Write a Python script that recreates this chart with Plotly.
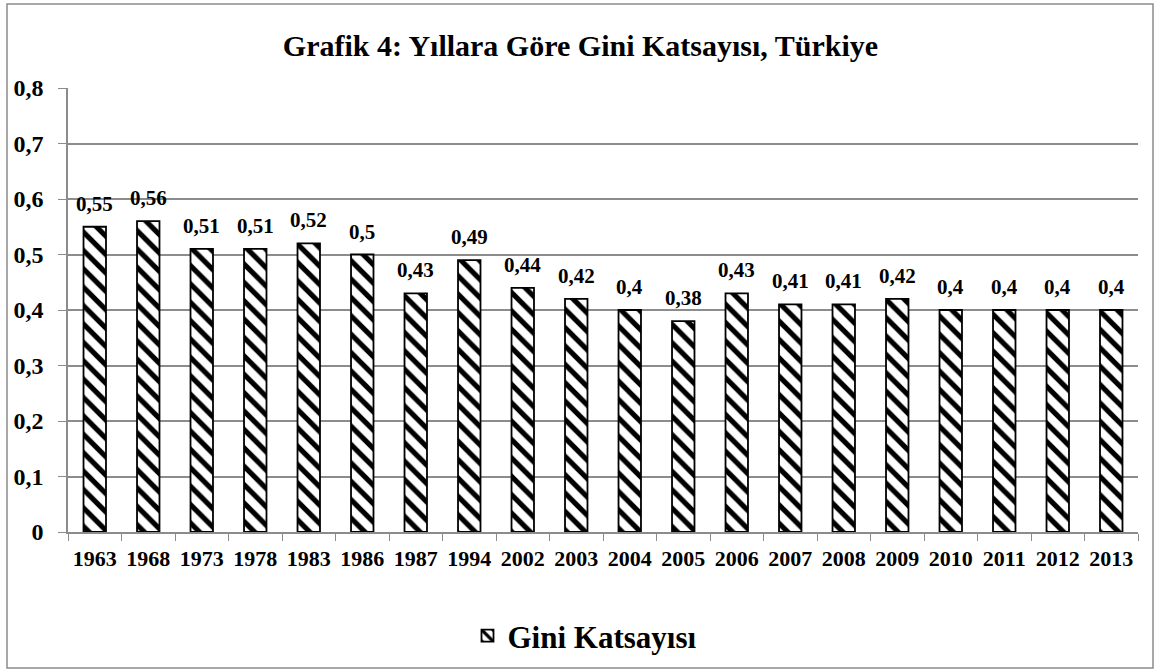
import plotly.graph_objects as go

years = ["1963","1968","1973","1978","1983","1986","1987","1994","2002","2003",
         "2004","2005","2006","2007","2008","2009","2010","2011","2012","2013"]
gini = [0.55,0.56,0.51,0.51,0.52,0.5,0.43,0.49,0.44,0.42,
        0.4,0.38,0.43,0.41,0.41,0.42,0.4,0.4,0.4,0.4]
labels = [str(v).replace(".", ",") for v in gini]
yticks = [0,0.1,0.2,0.3,0.4,0.5,0.6,0.7,0.8]
yticktext = ["0" if v == 0 else str(v).replace(".", ",") for v in yticks]

FONT = "Liberation Serif"
L, R, T, B = 68, 23, 88, 139
W, H = 1161, 671
pw, ph = W - L - R, H - T - B

def px(x): return (x - L) / pw
def py(y): return (H - B - y) / ph

fig = go.Figure()
fig.add_trace(go.Bar(
    x=years, y=gini, name="<b>Gini Katsayısı</b>",
    marker=dict(color="white", line=dict(color="black", width=1.8),
                pattern=dict(shape="\\", fgcolor="black", bgcolor="white",
                             fgopacity=1, size=13, solidity=0.4)),
    width=0.42,
))

annotations = [
    dict(x=i, y=v, xref="x", yref="y", text="<b>" + lab + "</b>",
         showarrow=False, yanchor="bottom", yshift=9,
         font=dict(family=FONT, size=21, color="black"))
    for i, (v, lab) in enumerate(zip(gini, labels))
]

fig.update_layout(
    width=W, height=H,
    margin=dict(l=L, r=R, t=T, b=B, autoexpand=False),
    paper_bgcolor="white", plot_bgcolor="white",
    title=dict(text="<b>Grafik 4: Yıllara Göre Gini Katsayısı, Türkiye</b>",
               x=0.5, xref="container", xanchor="center",
               y=1 - 45 / H, yref="container", yanchor="middle",
               font=dict(family=FONT, size=30, color="black")),
    font=dict(family=FONT, color="black"),
    showlegend=True,
    legend=dict(orientation="h", x=0.5 - 18 / pw, xanchor="center", y=py(636), yanchor="middle",
                font=dict(family=FONT, size=31, color="black")),
    annotations=annotations,
    shapes=[dict(type="rect", xref="paper", yref="paper",
                 x0=px(7), x1=px(1153), y0=py(668), y1=py(4),
                 line=dict(color="#8c8c8c", width=1.5), layer="below")],
)
fig.update_xaxes(
    type="category", categoryorder="array", categoryarray=years,
    showline=True, linecolor="#8c8c8c", linewidth=1.5,
    ticks="outside", tickson="boundaries", ticklen=7, tickcolor="#8c8c8c",
    ticklabelstandoff=6,
    tickfont=dict(family=FONT, size=22, color="black"),
    tickprefix="<b>", ticksuffix="</b>", showgrid=False,
)
fig.update_yaxes(
    range=[0, 0.8], tickvals=yticks,
    ticktext=["<b>" + t + "</b>" for t in yticktext],
    showgrid=True, gridcolor="#8c8c8c", gridwidth=1.5,
    showline=True, linecolor="#8c8c8c", linewidth=1.5,
    ticks="outside", ticklen=8, tickcolor="#8c8c8c",
    ticklabelstandoff=10,
    tickfont=dict(family=FONT, size=24, color="black"),
    zeroline=False,
)

fig.write_html("out.html", config={"displayModeBar": False},
               post_script="document.body.style.margin='0';")
